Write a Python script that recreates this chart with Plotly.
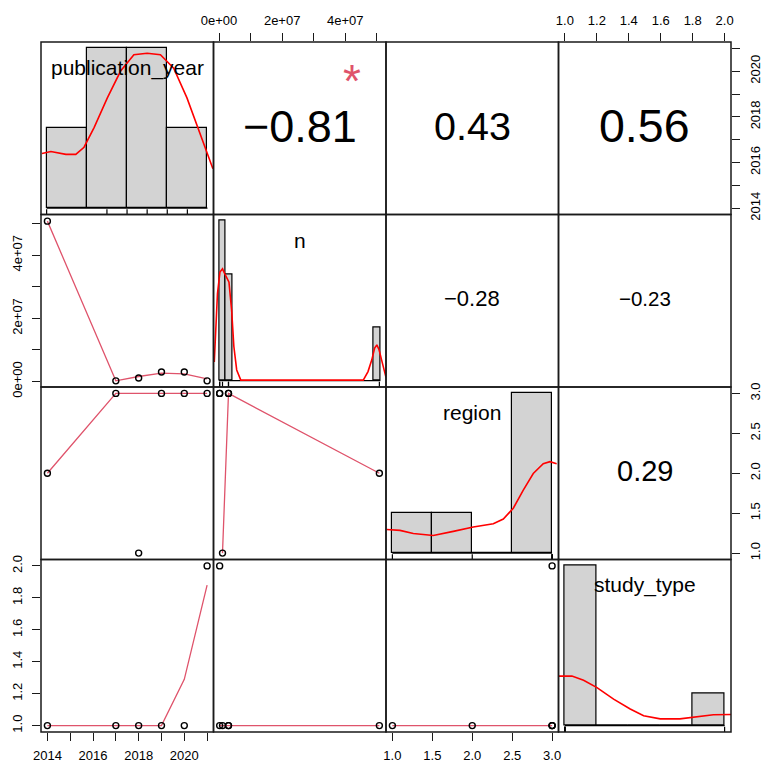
import plotly.graph_objects as go
from plotly.subplots import make_subplots

# ---------------- data ----------------
variables = ["publication_year", "n", "region", "study_type"]
publication_year = [2014, 2017, 2018, 2019, 2020, 2021]
n_size = [5.08e7, 2.0e5, 1.1e6, 3.0e6, 3.0e6, 2.0e5]
region = [2, 3, 1, 3, 3, 3]
study_type = [1, 1, 1, 1, 1, 2]

# histogram bins on the diagonal
year_bin_left = [2014, 2016, 2018, 2020]
year_bin_right = [2016, 2018, 2020, 2022]
year_bin_height = [0.0833, 0.1667, 0.1667, 0.0833]

n_bin_left = [0.0, 2.1e6, 4.9e7]
n_bin_right = [2.1e6, 4.2e6, 5.11e7]
n_bin_height = [3, 2, 1]

region_bin_left = [1.0, 1.5, 2.0, 2.5]
region_bin_right = [1.5, 2.0, 2.5, 3.0]
region_bin_height = [1, 1, 0, 4]

study_bin_left = [1.0, 1.2, 1.4, 1.6, 1.8]
study_bin_right = [1.2, 1.4, 1.6, 1.8, 2.0]
study_bin_height = [5, 0, 0, 0, 1]

# density curves (red) on the diagonal
dens_year_x = [2013.77, 2014.21, 2014.96, 2015.45, 2015.86, 2016.36, 2017.02, 2017.68,
               2018.34, 2019.0, 2019.66, 2020.32, 2020.98, 2021.64, 2022.27]
dens_year_y = [0.057, 0.059, 0.056, 0.056, 0.0635, 0.084, 0.115, 0.143,
               0.160, 0.1615, 0.160, 0.146, 0.115, 0.077, 0.041]
dens_n_x = [-1.5e6, -0.5e6, 0.3e6, 1.1e6, 1.8e6, 3.15e6, 4.0e6, 4.7e6, 5.6e6, 6.9e6,
            4.57e7, 4.72e7, 4.84e7, 4.93e7, 5.0e7, 5.07e7, 5.15e7, 5.29e7]
dens_n_y = [0.35, 1.63, 2.04, 2.10, 2.01, 1.85, 1.32, 0.64, 0.20, 0.01,
            0.01, 0.17, 0.39, 0.61, 0.67, 0.58, 0.39, 0.06]
dens_region_x = [0.929, 1.095, 1.262, 1.512, 1.763, 2.013, 2.264, 2.389, 2.514,
                 2.639, 2.764, 2.889, 2.973, 3.057]
dens_region_y = [0.59, 0.57, 0.49, 0.44, 0.545, 0.654, 0.736, 0.853, 1.125,
                 1.579, 1.993, 2.24, 2.29, 2.24]
dens_study_x = [0.96, 1.044, 1.117, 1.201, 1.305, 1.409, 1.493, 1.597, 1.72, 1.804, 1.93, 2.04]
dens_study_y = [1.55, 1.55, 1.42, 1.19, 0.83, 0.52, 0.31, 0.21, 0.21, 0.26, 0.34, 0.35]

# smoothers (lowess, pink) in the lower panels
smooth_year_n_x = [2014, 2017, 2018, 2019, 2020, 2021]
smooth_year_n_y = [5.08e7, 2.2e5, 1.58e6, 2.63e6, 2.43e6, 0.85e6]
smooth_year_region_x = [2014, 2017, 2018, 2019, 2020, 2021]
smooth_year_region_y = [2, 3, 3, 3, 3, 3]
smooth_year_study_x = [2014, 2017, 2018, 2019, 2020, 2021]
smooth_year_study_y = [1, 1, 1, 1, 1.29, 1.88]
smooth_n_region_x = [1.1e6, 3.0e6, 5.08e7]
smooth_n_region_y = [1.0, 3.0, 2.0]
smooth_n_study_x = [2.0e5, 5.08e7]
smooth_n_study_y = [1, 1]
smooth_region_study_x = [1, 3]
smooth_region_study_y = [1, 1]

# correlations (upper panels)
corr_pairs = [(0, 1), (0, 2), (0, 3), (1, 2), (1, 3), (2, 3)]
corr_values = [-0.81, 0.43, 0.56, -0.28, -0.23, 0.29]
corr_signif = ["*", "", "", "", "", ""]

# axis ticks
year_ticks = [2014, 2015, 2016, 2017, 2018, 2019, 2020, 2021]
year_labels = ["2014", "", "2016", "", "2018", "", "2020", ""]
n_ticks = [0, 1e7, 2e7, 3e7, 4e7, 5e7]
n_labels = ["0e+00", "", "2e+07", "", "4e+07", ""]
region_ticks = [1.0, 1.5, 2.0, 2.5, 3.0]
region_labels = ["1.0", "1.5", "2.0", "2.5", "3.0"]
study_ticks = [1.0, 1.2, 1.4, 1.6, 1.8, 2.0]
study_labels = ["1.0", "1.2", "1.4", "1.6", "1.8", "2.0"]

# ---------------- styling ----------------
FONT = "Liberation Sans, Arial, Helvetica, sans-serif"
PINK = "#DF536B"
corr_font_size = [45, 39.5, 46.5, 22, 20.5, 29]
star_font_size = 46

values = [publication_year, n_size, region, study_type]
var_range = [[2013.72, 2021.28], [-1.75e6, 5.29e7], [0.92, 3.08], [0.96, 2.04]]
diag_x_range = [[2013.72, 2022.3], [-1.75e6, 5.29e7], [0.92, 3.08], [0.96, 2.04]]
diag_y_range = [[-0.0067, 0.1733], [-0.12, 3.12], [-0.16, 4.16], [-0.2, 5.2]]
bins = [(year_bin_left, year_bin_right, year_bin_height),
        (n_bin_left, n_bin_right, n_bin_height),
        (region_bin_left, region_bin_right, region_bin_height),
        (study_bin_left, study_bin_right, study_bin_height)]
dens = [(dens_year_x, dens_year_y), (dens_n_x, dens_n_y),
        (dens_region_x, dens_region_y), (dens_study_x, dens_study_y)]
smooths = {
    (1, 0): (smooth_year_n_x, smooth_year_n_y),
    (2, 0): (smooth_year_region_x, smooth_year_region_y),
    (3, 0): (smooth_year_study_x, smooth_year_study_y),
    (2, 1): (smooth_n_region_x, smooth_n_region_y),
    (3, 1): (smooth_n_study_x, smooth_n_study_y),
    (3, 2): (smooth_region_study_x, smooth_region_study_y),
}
ticks_of = [(year_ticks, year_labels), (n_ticks, n_labels),
            (region_ticks, region_labels), (study_ticks, study_labels)]

fig = make_subplots(rows=4, cols=4, horizontal_spacing=0, vertical_spacing=0)

for i in range(4):
    for j in range(4):
        r, c = i + 1, j + 1
        if i == j:
            bl, br, bh = bins[i]
            centers = [(a + b) / 2 for a, b in zip(bl, br)]
            widths = [b - a for a, b in zip(bl, br)]
            fig.add_trace(go.Bar(x=centers, y=bh, width=widths, base=0,
                                 marker=dict(color="#D3D3D3", line=dict(color="black", width=1.2)),
                                 hoverinfo="skip"), row=r, col=c)
            fig.add_trace(go.Scatter(x=[bl[0], br[-1]], y=[0, 0], mode="lines",
                                     line=dict(color="black", width=1.2), hoverinfo="skip"),
                          row=r, col=c)
            dx, dy = dens[i]
            fig.add_trace(go.Scatter(x=dx, y=dy, mode="lines", line=dict(color="red", width=1.6),
                                     hoverinfo="skip"), row=r, col=c)
            y0 = diag_y_range[i][0]
            y1 = y0 + 0.03 * (diag_y_range[i][1] - diag_y_range[i][0])
            rx, ry = [], []
            for v in values[i]:
                rx += [v, v, None]
                ry += [y0, y1, None]
            fig.add_trace(go.Scatter(x=rx, y=ry, mode="lines", line=dict(color="black", width=1.2),
                                     hoverinfo="skip"), row=r, col=c)
        elif i > j:
            sx, sy = smooths[(i, j)]
            fig.add_trace(go.Scatter(x=sx, y=sy, mode="lines", line=dict(color=PINK, width=1.3),
                                     hoverinfo="skip"), row=r, col=c)
            fig.add_trace(go.Scatter(x=values[j], y=values[i], mode="markers",
                                     marker=dict(symbol="circle-open", size=6, color="black",
                                                 line=dict(width=1.4, color="black")),
                                     hoverinfo="skip", cliponaxis=False), row=r, col=c)
        else:
            fig.add_trace(go.Scatter(x=[var_range[j][0]], y=[var_range[i][0]], mode="markers",
                                     marker=dict(opacity=0, size=1), hoverinfo="skip"),
                          row=r, col=c)

# axes
axis_base = dict(showline=False, showgrid=False, zeroline=False, ticks="",
                 showticklabels=False, fixedrange=True, automargin=False)
tick_style = dict(ticks="outside", ticklen=8, tickwidth=1.2, tickcolor="#1a1a1a",
                  showticklabels=True, tickfont=dict(family=FONT, size=13, color="black"),
                  tickmode="array", automargin=False)

shapes = []
for i in range(4):
    for j in range(4):
        k = i * 4 + j + 1
        xname = "xaxis" if k == 1 else f"xaxis{k}"
        yname = "yaxis" if k == 1 else f"yaxis{k}"
        xa = dict(axis_base)
        ya = dict(axis_base)
        if i == j:
            xa["range"] = diag_x_range[i]
            ya["range"] = diag_y_range[i]
        else:
            xa["range"] = var_range[j]
            ya["range"] = var_range[i]
        fig.layout[xname].update(**xa)
        fig.layout[yname].update(**ya)
        xr = "x" if k == 1 else f"x{k}"
        yr = "y" if k == 1 else f"y{k}"
        shapes.append(dict(type="rect", xref=f"{xr} domain", yref=f"{yr} domain",
                           x0=0, x1=1, y0=0, y1=1, line=dict(color="#1a1a1a", width=1.5),
                           fillcolor="rgba(0,0,0,0)", layer="above"))

def set_ticks(axname, var, side, angle, standoff):
    tv, tt = ticks_of[var]
    fig.layout[axname].update(**tick_style, tickvals=tv, ticktext=tt, side=side,
                              tickangle=angle, ticklabelstandoff=standoff)

set_ticks("xaxis13", 0, "bottom", 0, 3)
set_ticks("xaxis2", 1, "top", 0, 3)
set_ticks("xaxis15", 2, "bottom", 0, 3)
set_ticks("xaxis4", 3, "top", 0, 3)
set_ticks("yaxis4", 0, "right", -90, 4)
set_ticks("yaxis5", 1, "left", -90, 5)
set_ticks("yaxis12", 2, "right", -90, 4)
set_ticks("yaxis13", 3, "left", -90, 5)

annotations = []
for i, name in enumerate(variables):
    k = i * 4 + i + 1
    xr = "x" if k == 1 else f"x{k}"
    yr = "y" if k == 1 else f"y{k}"
    annotations.append(dict(text=name, x=0.5, y=0.85, xref=f"{xr} domain", yref=f"{yr} domain",
                            showarrow=False, xanchor="center", yanchor="middle",
                            font=dict(family=FONT, size=21, color="black")))

for (a, b), v, s, fs in zip(corr_pairs, corr_values, corr_signif, corr_font_size):
    k = a * 4 + b + 1
    txt = f"{v:.2f}".replace("-", "\u2212")
    annotations.append(dict(text=txt, x=0.5, y=0.5, xref=f"x{k} domain", yref=f"y{k} domain",
                            showarrow=False, xanchor="center", yanchor="middle", yshift=2,
                            font=dict(family=FONT, size=fs, color="black")))
    if s:
        annotations.append(dict(text=s, x=0.8, y=0.8, xref=f"x{k} domain", yref=f"y{k} domain",
                                showarrow=False, xanchor="center", yanchor="middle", yshift=-4,
                                font=dict(family=FONT, size=star_font_size, color=PINK)))

fig.update_layout(width=764, height=767, margin=dict(l=41, r=33, t=42, b=35, autoexpand=False),
                  paper_bgcolor="white", plot_bgcolor="white", showlegend=False,
                  annotations=annotations, shapes=shapes, bargap=0)

fig.write_html("out.html", config={"displayModeBar": False},
               post_script="document.body.style.margin='0px';")
